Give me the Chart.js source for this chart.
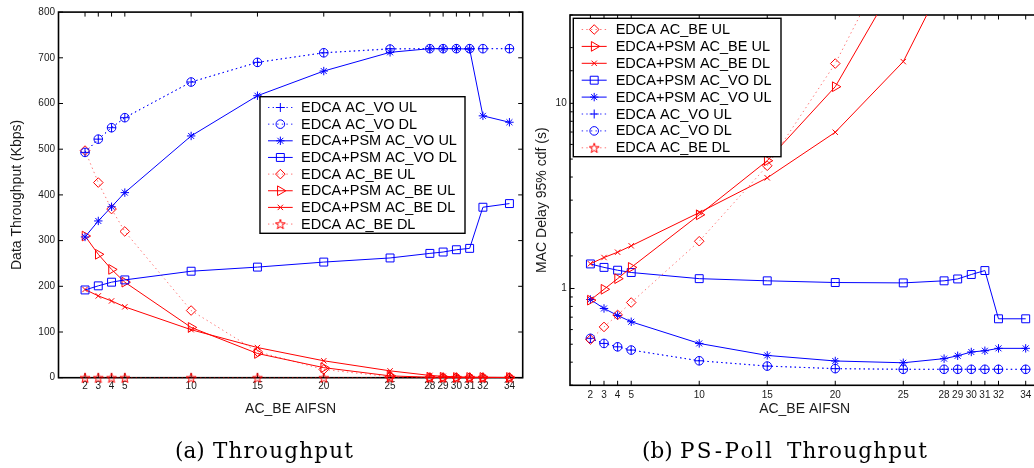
<!DOCTYPE html>
<html>
<head>
<meta charset="utf-8">
<script src="https://cdn.jsdelivr.net/npm/chart.js@4.4.1/dist/chart.umd.min.js"></script>
<style>
html,body{margin:0;padding:0;overflow:hidden;background:#fff;width:1034px;height:468px;}
#w1{position:absolute;left:0;top:0;width:530px;height:468px;}
#w2{position:absolute;left:520px;top:0;width:530px;height:468px;}
.cap{position:absolute;top:440px;font-family:"DejaVu Serif",serif;font-size:21.5px;line-height:22px;color:#000;white-space:nowrap;}
</style>
</head>
<body>
<div id="w1"><canvas id="c1"></canvas></div>
<div id="w2"><canvas id="c2"></canvas></div>
<span class="cap" style="left:175px">(a)</span>
<span class="cap" style="left:213px;letter-spacing:1.2px">Throughput</span>
<span class="cap" style="left:642px">(b)</span>
<span class="cap" style="left:680px;letter-spacing:2.4px">PS-Poll</span>
<span class="cap" style="left:787px;letter-spacing:1.2px">Throughput</span>
<script>
// ---------------- DATA ----------------
const aifsn = [2, 3, 4, 5, 10, 15, 20, 25, 28, 29, 30, 31, 32, 34];
const xTickValues = [2, 3, 4, 5, 10, 15, 20, 25, 28, 29, 30, 31, 32, 34];
const thrTickValues = [0, 100, 200, 300, 400, 500, 600, 700, 800];
const delayLabelValues = [1, 10];

// (a) Throughput (Kbps)
const thrEdcaVoUl = [493, 522, 547, 569, 647, 690, 711, 720, 720, 720, 720, 720, 720, 720];
const thrEdcaVoDl = [493, 522, 547, 569, 647, 690, 711, 719, 720, 720, 720, 720, 720, 720];
const thrPsmVoUl  = [308, 343, 374, 405, 529, 617, 671, 712, 720, 720, 720, 719, 573, 559];
const thrPsmVoDl  = [192, 201, 209, 214, 233, 242, 253, 262, 272, 275, 280, 283, 373, 381];
const thrEdcaBeUl = [497, 427, 369, 320, 147, 57, 18, 2, 0.5, 0.5, 0.5, 0.5, 0.5, 0.5];
const thrPsmBeUl  = [310, 270, 237, 209, 110, 53, 22, 4, 1, 1, 0.5, 0.5, 0.5, 0.5];
const thrPsmBeDl  = [193, 179, 168, 155, 105, 66, 37, 15, 5, 3, 2, 1, 1, 0.5];
const thrEdcaBeDl = [0, 0, 0, 0, 0, 0, 0, 0, 0, 0, 0, 0, 0, 0];

// (b) MAC Delay 95% cdf (s)
const dlyEdcaBeUl = [0.53, 0.62, 0.72, 0.84, 1.80, 4.6, 16.4, 85, 160, 190, 220, 250, 280, 330];
const dlyPsmBeUl  = [0.865, 0.99, 1.13, 1.30, 2.50, 4.9, 12.3, 53, 100, 120, 140, 165, 190, 240];
const dlyPsmBeDl  = [1.36, 1.47, 1.57, 1.70, 2.57, 3.96, 6.98, 16.8, 46, 64, 89, 125, 174, 340];
const dlyPsmVoDl  = [1.357, 1.30, 1.255, 1.22, 1.13, 1.10, 1.077, 1.072, 1.10, 1.126, 1.19, 1.25, 0.686, 0.686];
const dlyPsmVoUl  = [0.872, 0.78, 0.715, 0.661, 0.505, 0.435, 0.406, 0.397, 0.418, 0.433, 0.454, 0.461, 0.475, 0.475];
const dlyEdcaVoUl = [0.538, 0.505, 0.484, 0.465, 0.407, 0.381, 0.369, 0.366, 0.366, 0.366, 0.366, 0.366, 0.366, 0.366];
const dlyEdcaVoDl = [0.538, 0.505, 0.484, 0.465, 0.407, 0.381, 0.369, 0.366, 0.366, 0.366, 0.366, 0.366, 0.366, 0.366];
const dlyEdcaBeDl = [null, null, null, null, null, null, null, null, null, null, null, null, null, null];

// ---------------- STYLE ----------------
const BLUE = '#0000ff', RED = '#ff0000';
const SANS = '"Liberation Sans", Arial, Helvetica, sans-serif';
const TXT = '#1a1a1a';

function pentagram(color, size) {
  const c = document.createElement('canvas');
  c.width = size; c.height = size;
  const g = c.getContext('2d');
  g.strokeStyle = color; g.lineWidth = 1;
  const cx = size / 2, cy = size / 2 + 0.5, R = size / 2 - 0.8, r = R * 0.4;
  g.beginPath();
  for (let i = 0; i < 10; i++) {
    const a = -Math.PI / 2 + i * Math.PI / 5;
    const rr = (i % 2) ? r : R;
    g.lineTo(cx + rr * Math.cos(a), cy + rr * Math.sin(a));
  }
  g.closePath(); g.stroke();
  return c;
}
const starImg = pentagram(RED, 12);

const MARK = {
  plus:    {pointStyle: 'cross', pointRadius: 4.5},
  circle:  {pointStyle: 'circle', pointRadius: 4.3},
  star:    {pointStyle: 'star', pointRadius: 4.2},
  square:  {pointStyle: 'rect', pointRadius: 5.6},
  diamond: {pointStyle: 'rectRot', pointRadius: 4.8},
  tri:     {pointStyle: 'triangle', pointRadius: 5.6, pointRotation: 90},
  x:       {pointStyle: 'crossRot', pointRadius: 3.8},
  penta:   {pointStyle: starImg, pointRadius: 6}
};

function makeSeries(label, values, color, mark, dotted) {
  const m = MARK[mark];
  return Object.assign({
    label: label,
    data: aifsn.map((x, i) => ({x: x, y: values[i]})),
    borderColor: dotted ? (color === RED ? 'rgba(255,0,0,0.55)' : 'rgba(0,0,255,0.85)') : color,
    borderWidth: 1,
    borderDash: dotted ? [1.4, 3.2] : [],
    pointBorderColor: color,
    pointBackgroundColor: 'rgba(0,0,0,0)',
    pointBorderWidth: 1,
    pointRotation: 0,
    pointHoverRadius: m.pointRadius,
    tension: 0,
    fill: false,
    spanGaps: false
  }, m);
}

// ---------------- PLUGINS ----------------
const frame = {
  id: 'frame',
  beforeDatasetsDraw(chart, args, o) {
    const {ctx, chartArea: a} = chart;
    const xs = chart.scales.x, ys = chart.scales.y;
    ctx.save();
    ctx.strokeStyle = '#000';
    ctx.lineWidth = 1;
    ctx.beginPath();
    xTickValues.forEach(v => {
      const px = xs.getPixelForValue(v);
      ctx.moveTo(px, a.bottom); ctx.lineTo(px, a.bottom - 4.5);
      ctx.moveTo(px, a.top); ctx.lineTo(px, a.top + 4.5);
    });
    ys.ticks.forEach(t => {
      const py = ys.getPixelForValue(t.value);
      let len = 4.5;
      if (o.log) {
        const lg = Math.log10(t.value);
        len = Math.abs(lg - Math.round(lg)) < 1e-6 ? 4.5 : 2.8;
      }
      ctx.moveTo(a.left, py); ctx.lineTo(a.left + len, py);
      ctx.moveTo(a.right, py); ctx.lineTo(a.right - len, py);
    });
    ctx.stroke();
    ctx.lineWidth = 1.6;
    ctx.strokeRect(a.left, a.top, a.right - a.left, a.bottom - a.top);
    ctx.restore();
  }
};

const boxLegend = {
  id: 'boxLegend',
  afterDatasetsDraw(chart, args, o) {
    const ctx = chart.ctx;
    ctx.save();
    ctx.fillStyle = '#fff';
    ctx.fillRect(o.x0, o.y0, o.x1 - o.x0, o.y1 - o.y0);
    ctx.lineWidth = 1.4; ctx.strokeStyle = '#000';
    ctx.strokeRect(o.x0, o.y0, o.x1 - o.x0, o.y1 - o.y0);
    o.order.forEach((di, i) => {
      const ds = chart.data.datasets[di];
      const y = o.yFirst + i * o.dy;
      ctx.save();
      ctx.strokeStyle = ds.borderColor; ctx.lineWidth = ds.borderWidth;
      ctx.setLineDash(ds.borderDash || []);
      ctx.beginPath(); ctx.moveTo(o.lx0, y); ctx.lineTo(o.lx1, y); ctx.stroke();
      ctx.restore();
      ctx.save();
      ctx.strokeStyle = ds.pointBorderColor; ctx.fillStyle = 'rgba(0,0,0,0)';
      ctx.lineWidth = ds.pointBorderWidth; ctx.setLineDash([]);
      Chart.helpers.drawPoint(ctx, {pointStyle: ds.pointStyle, radius: ds.pointRadius,
        rotation: ds.pointRotation || 0, borderWidth: ds.pointBorderWidth}, (o.lx0 + o.lx1) / 2, y);
      ctx.restore();
      ctx.fillStyle = '#000';
      ctx.font = '14.5px ' + SANS;
      ctx.textBaseline = 'middle'; ctx.textAlign = 'left';
      ctx.fillText(ds.label, o.tx, y + 0.5);
    });
    ctx.restore();
  }
};

function xScale(min, max, pad, boxH) {
  return {
    type: 'linear', min: min, max: max,
    afterBuildTicks: s => { s.ticks = xTickValues.map(v => ({value: v})); },
    afterFit: s => { s.height = boxH; },
    grid: {display: false, drawTicks: false}, border: {display: false},
    ticks: {autoSkip: false, maxRotation: 0, minRotation: 0, padding: pad,
      font: {family: SANS, size: 10}, color: TXT, callback: v => String(v)},
    title: {display: true, text: 'AC_BE AIFSN', color: TXT,
      font: {family: SANS, size: 14}, padding: {top: 0, bottom: 50.3}}
  };
}

// ---------------- CHART (a) ----------------
new Chart(document.getElementById('c1'), {
  type: 'line',
  data: {datasets: [
    makeSeries('EDCA AC_VO UL', thrEdcaVoUl, BLUE, 'plus', true),
    makeSeries('EDCA AC_VO DL', thrEdcaVoDl, BLUE, 'circle', true),
    makeSeries('EDCA+PSM AC_VO UL', thrPsmVoUl, BLUE, 'star', false),
    makeSeries('EDCA+PSM AC_VO DL', thrPsmVoDl, BLUE, 'square', false),
    makeSeries('EDCA AC_BE UL', thrEdcaBeUl, RED, 'diamond', true),
    makeSeries('EDCA+PSM AC_BE UL', thrPsmBeUl, RED, 'tri', false),
    makeSeries('EDCA+PSM AC_BE DL', thrPsmBeDl, RED, 'x', false),
    makeSeries('EDCA AC_BE DL', thrEdcaBeDl, RED, 'penta', true)
  ].map(d => Object.assign(d, {clip: false}))},
  options: {
    responsive: true, maintainAspectRatio: false, animation: false,
    layout: {padding: {left: 0, top: 12.1, right: 7.3, bottom: 0}},
    plugins: {
      legend: {display: false}, tooltip: {enabled: false},
      frame: {log: false},
      boxLegend: {x0: 260, y0: 96.7, x1: 465, y1: 233.3, yFirst: 107.5, dy: 16.65,
        lx0: 268, lx1: 292.7, tx: 301, order: [0, 1, 2, 3, 4, 5, 6, 7]}
    },
    scales: {
      x: xScale(0, 35, 3, 90.3),
      y: {
        type: 'linear', min: 0, max: 800,
        afterBuildTicks: s => { s.ticks = thrTickValues.map(v => ({value: v})); },
        afterFit: s => { s.width = 58.5; },
        grid: {display: false, drawTicks: false}, border: {display: false},
        ticks: {padding: 3.5, font: {family: SANS, size: 10}, color: TXT, autoSkip: false},
        title: {display: true, text: 'Data Throughput (Kbps)', color: TXT,
          font: {family: SANS, size: 14}, padding: {top: 8.6, bottom: 0}}
      }
    }
  },
  plugins: [frame, boxLegend]
});

// ---------------- CHART (b) ----------------
new Chart(document.getElementById('c2'), {
  type: 'line',
  data: {datasets: [
    makeSeries('EDCA AC_BE UL', dlyEdcaBeUl, RED, 'diamond', true),
    makeSeries('EDCA+PSM AC_BE UL', dlyPsmBeUl, RED, 'tri', false),
    makeSeries('EDCA+PSM AC_BE DL', dlyPsmBeDl, RED, 'x', false),
    makeSeries('EDCA+PSM AC_VO DL', dlyPsmVoDl, BLUE, 'square', false),
    makeSeries('EDCA+PSM AC_VO UL', dlyPsmVoUl, BLUE, 'star', false),
    makeSeries('EDCA AC_VO UL', dlyEdcaVoUl, BLUE, 'plus', true),
    makeSeries('EDCA AC_VO DL', dlyEdcaVoDl, BLUE, 'circle', true),
    makeSeries('EDCA AC_BE DL', dlyEdcaBeDl, RED, 'penta', true)
  ].map(d => Object.assign(d, {clip: {left: 10, right: 10, top: 0, bottom: 10}}))},
  options: {
    responsive: true, maintainAspectRatio: false, animation: false,
    layout: {padding: {left: 0, top: 15, right: 10.7, bottom: 0}},
    plugins: {
      legend: {display: false}, tooltip: {enabled: false},
      frame: {log: true},
      boxLegend: {x0: 53.3, y0: 18.3, x1: 261, y1: 156.7, yFirst: 29.5, dy: 16.9,
        lx0: 61.7, lx1: 86.7, tx: 95.7, order: [0, 1, 2, 3, 4, 5, 6, 7]}
    },
    scales: {
      x: xScale(0.5, 35, 4.4, 82.7),
      y: {
        type: 'logarithmic', min: 0.3, max: 30,
        afterFit: s => { s.width = 50; },
        grid: {display: false, drawTicks: false}, border: {display: false},
        ticks: {padding: 3.3, font: {family: SANS, size: 10}, color: TXT, autoSkip: false,
          callback: v => delayLabelValues.includes(v) ? String(v) : ''},
        title: {display: true, text: 'MAC Delay 95% cdf (s)', color: TXT,
          font: {family: SANS, size: 14}, padding: {top: 13.3, bottom: 0}}
      }
    }
  },
  plugins: [frame, boxLegend]
});
</script>
</body>
</html>
